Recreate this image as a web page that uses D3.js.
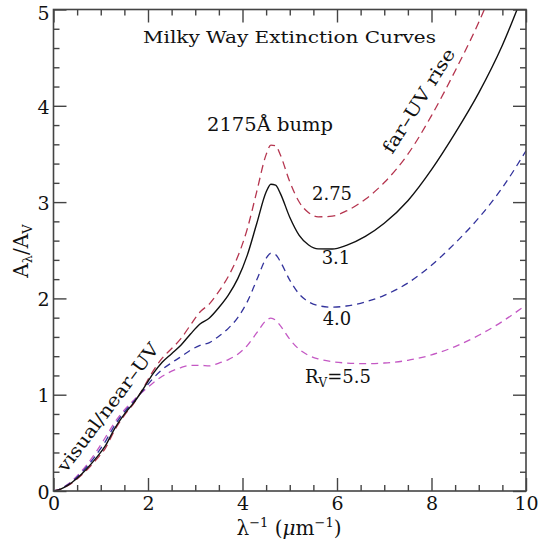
<!DOCTYPE html>
<html>
<head>
<meta charset="utf-8">
<script src="https://cdn.jsdelivr.net/npm/d3@7"></script>
<style>
  body { margin: 0; background: #fff; }
  svg text { font-family: "DejaVu Serif", serif; fill: #111; }
</style>
</head>
<body>
<div id="chart"></div>
<script>
// inverse wavelength (1/micron)
const invWave = [0, 0.15, 0.3, 0.5, 0.7, 0.9, 1.1, 1.3, 1.5, 1.7, 1.9, 2.1, 2.3, 2.5, 2.7, 2.9, 3.1, 3.3,
  3.5, 3.7, 3.9, 4.1, 4.3, 4.5, 4.6, 4.7, 4.8, 5.0, 5.2, 5.4, 5.6, 5.9, 6.2, 6.6, 7.0, 7.5, 8.0, 8.5, 9.0, 9.5, 10];

// A_lambda / A_V, one array per R_V
const rv275 = [0, 0.018, 0.055, 0.125, 0.215, 0.323, 0.446, 0.637, 0.786, 0.910, 1.068, 1.240, 1.379, 1.479, 1.584, 1.725, 1.859, 1.943,
  2.073, 2.229, 2.434, 2.720, 3.106, 3.493, 3.592, 3.586, 3.491, 3.212, 3.001, 2.890, 2.847, 2.854, 2.908, 3.030, 3.203, 3.498, 3.898, 4.362, 4.868, 5.465, 6.203];
const rv31 = [0, 0.019, 0.058, 0.132, 0.228, 0.341, 0.471, 0.654, 0.799, 0.917, 1.060, 1.213, 1.337, 1.426, 1.516, 1.630, 1.734, 1.797,
  1.905, 2.034, 2.205, 2.447, 2.775, 3.104, 3.186, 3.177, 3.091, 2.843, 2.655, 2.555, 2.514, 2.513, 2.551, 2.644, 2.780, 3.014, 3.337, 3.716, 4.134, 4.629, 5.238];
const rv40 = [0, 0.021, 0.064, 0.145, 0.249, 0.373, 0.516, 0.686, 0.821, 0.931, 1.048, 1.165, 1.261, 1.332, 1.395, 1.462, 1.512, 1.541,
  1.608, 1.689, 1.801, 1.964, 2.190, 2.416, 2.469, 2.454, 2.383, 2.190, 2.045, 1.964, 1.925, 1.909, 1.921, 1.963, 2.032, 2.160, 2.345, 2.574, 2.836, 3.150, 3.533];
const rv55 = [0, 0.023, 0.069, 0.157, 0.269, 0.404, 0.558, 0.716, 0.842, 0.944, 1.036, 1.120, 1.191, 1.244, 1.282, 1.304, 1.305, 1.299,
  1.329, 1.365, 1.421, 1.510, 1.641, 1.771, 1.795, 1.774, 1.718, 1.576, 1.471, 1.408, 1.372, 1.343, 1.329, 1.323, 1.329, 1.357, 1.413, 1.500, 1.617, 1.761, 1.931];

const xMajor = [0, 2, 4, 6, 8, 10];
const yMajor = [0, 1, 2, 3, 4, 5];

const W = 540, H = 547;
const plot = { left: 53.5, right: 526, top: 9.5, bottom: 491 };

const svg = d3.select('#chart').append('svg')
    .attr('width', W)
    .attr('height', H);

const x = d3.scaleLinear().domain([0, 10]).range([plot.left, plot.right]);
const y = d3.scaleLinear().domain([0, 5]).range([plot.bottom, plot.top]);

svg.append('clipPath').attr('id', 'plotclip')
    .append('rect')
    .attr('x', plot.left).attr('y', plot.top)
    .attr('width', plot.right - plot.left).attr('height', plot.bottom - plot.top);

// curves
const line = d3.line()
    .x(d => x(d[0]))
    .y(d => y(d[1]))
    .curve(d3.curveMonotoneX);

const series = [
    { vals: rv55, color: '#c458c4', dash: '7,5', width: 1.3 },
    { vals: rv40, color: '#33339c', dash: '7,5', width: 1.3 },
    { vals: rv275, color: '#b5354f', dash: '8,5', width: 1.3 },
    { vals: rv31, color: '#111', dash: null, width: 1.4 }
];

const curves = svg.append('g').attr('clip-path', 'url(#plotclip)');
series.forEach(s => {
    curves.append('path')
        .datum(invWave.map((v, i) => [v, s.vals[i]]))
        .attr('d', line)
        .attr('fill', 'none')
        .attr('stroke', s.color)
        .attr('stroke-width', s.width)
        .attr('stroke-dasharray', s.dash);
});

// axes, ticks pointing inward on all four sides
function styleAxis(g) {
    g.select('.domain').remove();
    g.selectAll('line').attr('stroke', '#444').attr('stroke-width', 1.4);
    g.selectAll('text').attr('font-size', 19).attr('fill', '#111')
        .style('font-family', '"DejaVu Serif", serif');
}

const xMinor = d3.range(0, 10.01, 0.5).filter(v => v % 2 !== 0);
const yMinor = d3.range(0, 5.01, 0.2).filter(v => Math.abs(v - Math.round(v)) > 0.01);

svg.append('g').attr('transform', `translate(0,${plot.bottom})`)
    .call(d3.axisBottom(x).tickValues(xMajor).tickSize(-13).tickPadding(6).tickFormat(d3.format('d')))
    .call(styleAxis);
svg.append('g').attr('transform', `translate(0,${plot.bottom})`)
    .call(d3.axisBottom(x).tickValues(xMinor).tickSize(-6).tickFormat(''))
    .call(styleAxis);
svg.append('g').attr('transform', `translate(0,${plot.top})`)
    .call(d3.axisTop(x).tickValues(xMajor).tickSize(-13).tickFormat(''))
    .call(styleAxis);
svg.append('g').attr('transform', `translate(0,${plot.top})`)
    .call(d3.axisTop(x).tickValues(xMinor).tickSize(-6).tickFormat(''))
    .call(styleAxis);

const yAxisG = svg.append('g').attr('transform', `translate(${plot.left},0)`)
    .call(d3.axisLeft(y).tickValues(yMajor).tickSize(-13).tickPadding(4).tickFormat(d3.format('d')))
    .call(styleAxis);
// top label sits a little lower so it stays inside the page
yAxisG.selectAll('.tick text').attr('dy', d => d === 5 ? '0.55em' : '0.38em');

svg.append('g').attr('transform', `translate(${plot.left},0)`)
    .call(d3.axisLeft(y).tickValues(yMinor).tickSize(-6).tickFormat(''))
    .call(styleAxis);
svg.append('g').attr('transform', `translate(${plot.right},0)`)
    .call(d3.axisRight(y).tickValues(yMajor).tickSize(-13).tickFormat(''))
    .call(styleAxis);
svg.append('g').attr('transform', `translate(${plot.right},0)`)
    .call(d3.axisRight(y).tickValues(yMinor).tickSize(-6).tickFormat(''))
    .call(styleAxis);

// frame
svg.append('rect')
    .attr('x', plot.left).attr('y', plot.top)
    .attr('width', plot.right - plot.left).attr('height', plot.bottom - plot.top)
    .attr('fill', 'none')
    .attr('stroke', '#444')
    .attr('stroke-width', 1.6);

// axis titles
const xt = svg.append('text')
    .attr('x', 289).attr('y', 535)
    .attr('text-anchor', 'middle')
    .attr('font-size', 20);
xt.append('tspan').text('λ');
xt.append('tspan').attr('font-size', 13).attr('dy', -8).text('−1');
xt.append('tspan').attr('dy', 8).text(' (');
xt.append('tspan').attr('font-style', 'italic').text('μ');
xt.append('tspan').text('m');
xt.append('tspan').attr('font-size', 13).attr('dy', -8).text('−1');
xt.append('tspan').attr('dy', 8).text(')');

const yt = svg.append('text')
    .attr('transform', 'translate(28,251) rotate(-90)')
    .attr('text-anchor', 'middle')
    .attr('font-size', 20);
yt.append('tspan').text('A');
yt.append('tspan').attr('font-size', 13).attr('dy', 4).text('λ');
yt.append('tspan').attr('dy', -4).text('/A');
yt.append('tspan').attr('font-size', 13).attr('dy', 4).text('V');

// annotations
svg.append('text')
    .attr('x', 143).attr('y', 43)
    .attr('font-size', 17)
    .attr('textLength', 293)
    .attr('lengthAdjust', 'spacingAndGlyphs')
    .text('Milky Way Extinction Curves');

svg.append('text')
    .attr('x', 207).attr('y', 131)
    .attr('font-size', 18)
    .attr('textLength', 126)
    .attr('lengthAdjust', 'spacingAndGlyphs')
    .text('2175Å bump');

svg.append('text')
    .attr('transform', 'translate(424,104) rotate(-58)')
    .attr('text-anchor', 'middle')
    .attr('font-size', 18)
    .attr('textLength', 120)
    .attr('lengthAdjust', 'spacingAndGlyphs')
    .text('far–UV rise');

svg.append('text')
    .attr('transform', 'translate(113,411) rotate(-53)')
    .attr('text-anchor', 'middle')
    .attr('font-size', 18)
    .attr('textLength', 156)
    .attr('lengthAdjust', 'spacingAndGlyphs')
    .text('visual/near–UV');

const labels = [
    { t: '2.75', x: 332, y: 200 },
    { t: '3.1', x: 336, y: 263.5 },
    { t: '4.0', x: 337, y: 325 }
];
labels.forEach(l => {
    svg.append('text')
        .attr('x', l.x).attr('y', l.y)
        .attr('text-anchor', 'middle')
        .attr('font-size', 18)
        .text(l.t);
});

const rl = svg.append('text')
    .attr('x', 305).attr('y', 383)
    .attr('font-size', 18);
rl.append('tspan').text('R');
rl.append('tspan').attr('font-size', 12).attr('dy', 4).text('V');
rl.append('tspan').attr('dy', -4).text('=5.5');
</script>
</body>
</html>
